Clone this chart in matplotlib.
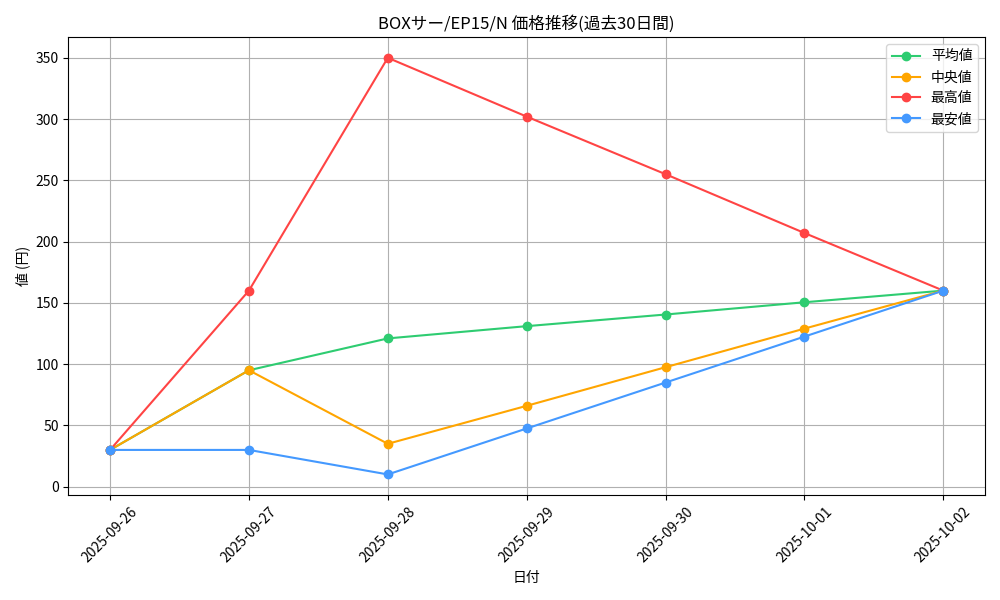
import matplotlib
matplotlib.use("Agg")
import matplotlib.pyplot as plt

plt.rcParams['font.family'] = ['Noto Sans CJK JP', 'DejaVu Sans']

dates = ["2025-09-26", "2025-09-27", "2025-09-28", "2025-09-29", "2025-09-30", "2025-10-01", "2025-10-02"]
avg = [30, 95, 121, 131, 140.5, 150.5, 160]
median = [30, 95, 35, 66, 97.5, 129, 160]
maxv = [30, 160, 350, 302, 255, 207, 160]
minv = [30, 30, 10, 47.5, 85, 122.5, 160]

fig, ax = plt.subplots(figsize=(10, 6), dpi=100)
ax.plot(dates, avg, marker='o', color='#2ecc71', label='平均値')
ax.plot(dates, median, marker='o', color='#ffa500', label='中央値')
ax.plot(dates, maxv, marker='o', color='#ff4444', label='最高値')
ax.plot(dates, minv, marker='o', color='#4499ff', label='最安値')
ax.set_title('BOXサー/EP15/N 価格推移(過去30日間)')
ax.set_xlabel('日付')
ax.set_ylabel('値 (円)')
ax.grid(True)
ax.legend(loc='upper right')
plt.setp(ax.get_xticklabels(), rotation=45)
fig.tight_layout()
fig.savefig('out.png')
